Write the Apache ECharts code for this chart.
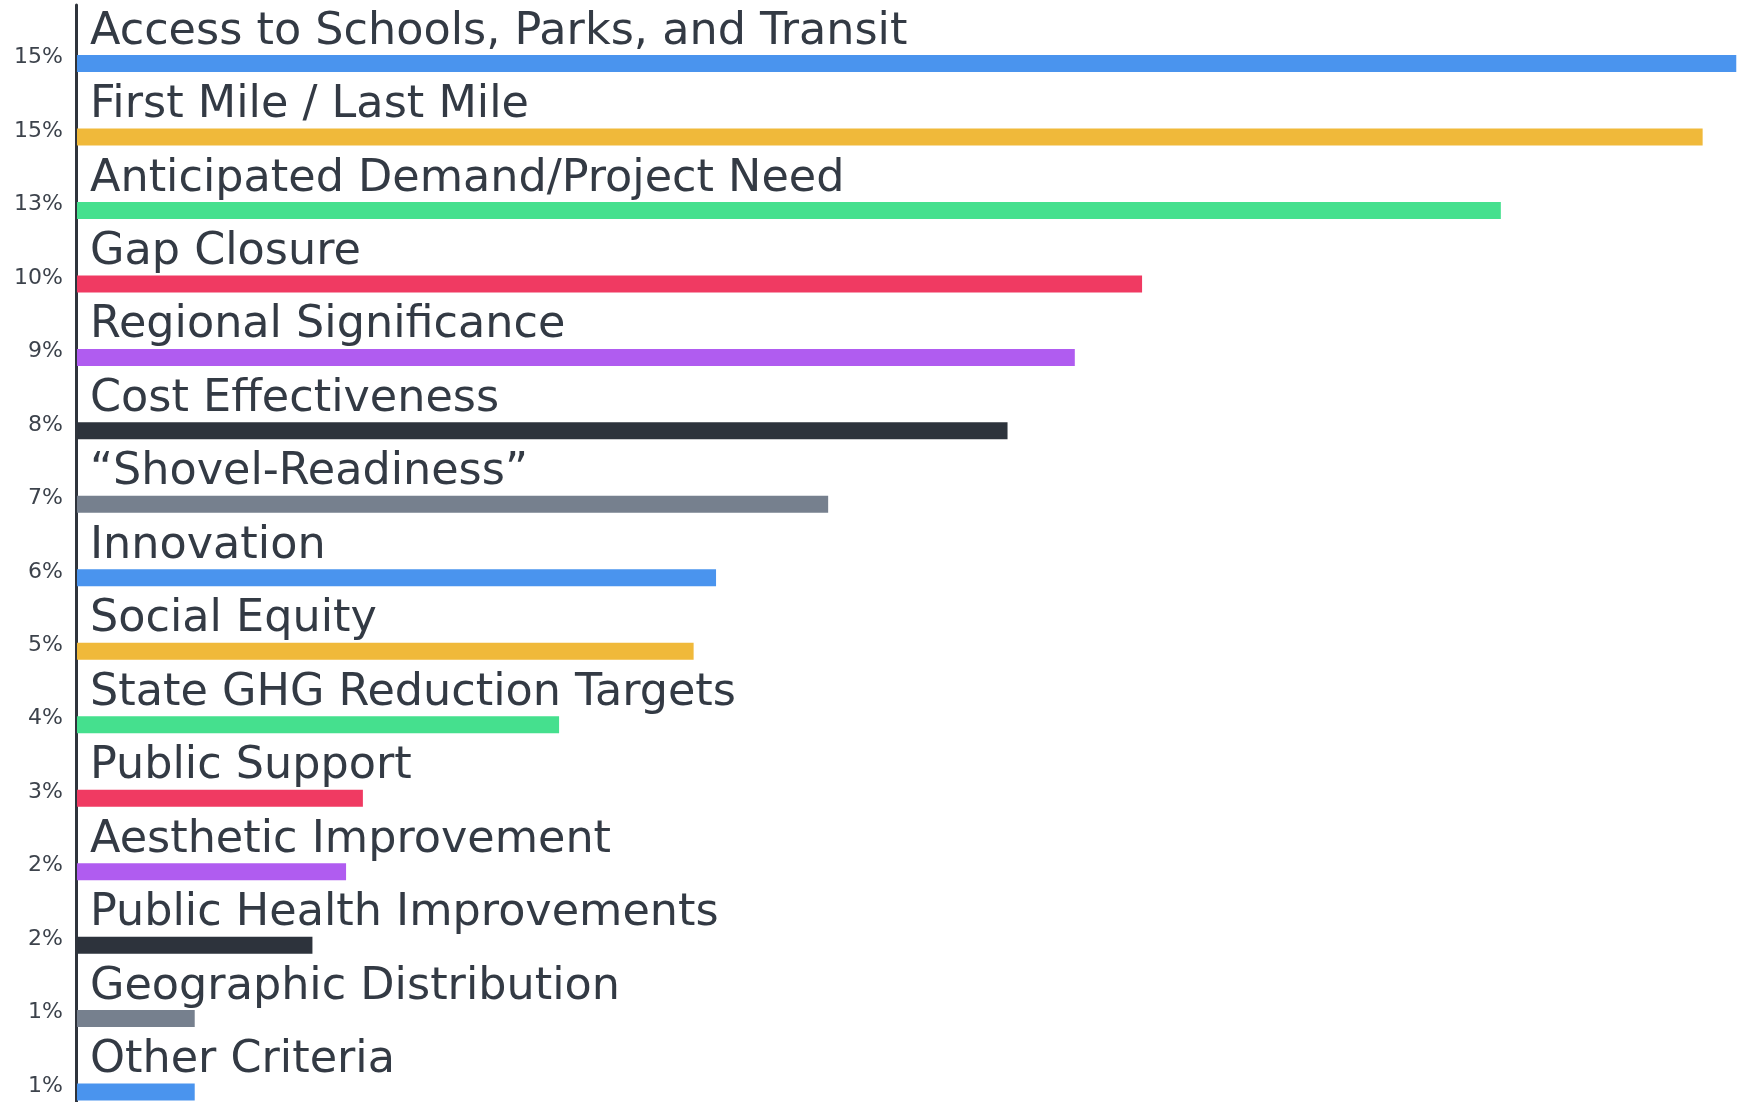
<!DOCTYPE html>
<html>
<head>
<meta charset="utf-8">
<style>
  html, body { margin: 0; padding: 0; background: #ffffff; }
  #chart { width: 1743px; height: 1102px; }
</style>
<script src="https://cdn.jsdelivr.net/npm/echarts@6/dist/echarts.min.js"></script>
</head>
<body>
<div id="chart"></div>
<script>
// criteria, top to bottom
const categories = [
  'Access to Schools, Parks, and Transit',
  'First Mile / Last Mile',
  'Anticipated Demand/Project Need',
  'Gap Closure',
  'Regional Significance',
  'Cost Effectiveness',
  '\u201cShovel-Readiness\u201d',
  'Innovation',
  'Social Equity',
  'State GHG Reduction Targets',
  'Public Support',
  'Aesthetic Improvement',
  'Public Health Improvements',
  'Geographic Distribution',
  'Other Criteria'
];

// share of responses (%)
const shares = [14.8, 14.5, 12.7, 9.5, 8.9, 8.3, 6.7, 5.7, 5.5, 4.3, 2.55, 2.4, 2.1, 1.05, 1.05];

// rounded labels printed left of the axis
const pctLabels = ['15%', '15%', '13%', '10%', '9%', '8%', '7%', '6%', '5%', '4%', '3%', '2%', '2%', '1%', '1%'];

const palette = ['#4a94ee', '#f0b93a', '#45e08e', '#f03a62', '#b05cf0', '#2d333c', '#76808e'];

const xMax = 14.86;
const FONT = '"DejaVu Sans", "Noto Sans", sans-serif';

const chart = echarts.init(document.getElementById('chart'), null, { renderer: 'canvas' });

const option = {
  backgroundColor: '#ffffff',
  animation: false,
  grid: [
    // 15 bands of ~73.5px, last band runs past the bottom edge
    { left: 77, right: 0, top: 26.8, height: 1102, outerBoundsMode: 'none', containLabel: false },
    // only carries the vertical axis line
    { left: 76, width: 1, top: 5, bottom: 0, outerBoundsMode: 'none' }
  ],
  xAxis: [
    { gridIndex: 0, type: 'value', min: 0, max: xMax, show: false },
    { gridIndex: 1, type: 'value', min: 0, max: 1, show: false }
  ],
  yAxis: [
    {
      gridIndex: 0,
      type: 'category',
      inverse: true,
      data: pctLabels,
      axisLine: { show: false },
      axisTick: { show: false },
      splitLine: { show: false },
      axisLabel: {
        margin: 14,
        color: '#3d434c',
        fontFamily: FONT,
        fontSize: 22,
        verticalAlign: 'bottom',
        lineHeight: 12
      }
    },
    {
      gridIndex: 1,
      type: 'value',
      min: 0,
      max: 1,
      axisLine: { show: true, lineStyle: { color: '#2f343c', width: 3 } },
      axisTick: { show: false },
      axisLabel: { show: false },
      splitLine: { show: false }
    }
  ],
  series: [
    {
      type: 'bar',
      xAxisIndex: 0,
      yAxisIndex: 0,
      barWidth: 17,
      data: shares.map((v, i) => ({
        value: v,
        name: categories[i],
        itemStyle: { color: palette[i % palette.length] }
      })),
      label: {
        show: true,
        position: [13, -1],
        align: 'left',
        verticalAlign: 'bottom',
        formatter: p => categories[p.dataIndex],
        color: '#333a44',
        fontFamily: FONT,
        fontSize: 44.5,
        lineHeight: 44
      }
    }
  ]
};

chart.setOption(option);
</script>
</body>
</html>
